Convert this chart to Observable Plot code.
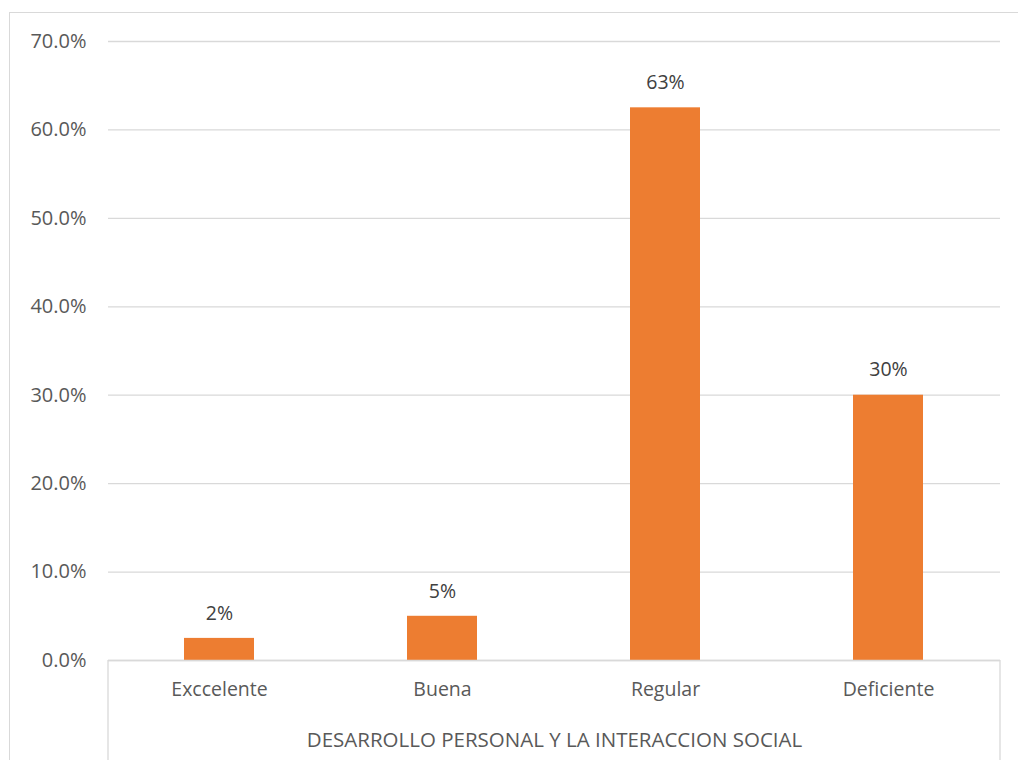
<!DOCTYPE html>
<html>
<head>
<meta charset="utf-8">
<script src="https://cdn.jsdelivr.net/npm/d3@7"></script>
<script src="https://cdn.jsdelivr.net/npm/@observablehq/plot@0.6"></script>
<style>
  html, body { margin: 0; padding: 0; background: #fff; overflow: hidden; }
  #wrap { position: relative; width: 1018px; height: 760px; }
  #border { position: absolute; left: 9px; top: 12px; width: 1030px; height: 770px; border: 1px solid #d9d9d9; box-sizing: border-box; }
  #chart { position: absolute; left: 0; top: 0; }
</style>
</head>
<body>
<div id="wrap"><div id="border"></div><div id="chart"></div></div>
<script>
const categories = ["Exccelente", "Buena", "Regular", "Deficiente"];
const values = [0.025, 0.05, 0.625, 0.30];
const valueLabels = ["2%", "5%", "63%", "30%"];
const groupTitle = "DESARROLLO PERSONAL Y LA INTERACCION SOCIAL";
const yTicks = [0, 0.1, 0.2, 0.3, 0.4, 0.5, 0.6, 0.7];

const data = categories.map((c, i) => ({cat: c, v: values[i], label: valueLabels[i]}));
const font = "'Open Sans', 'Liberation Sans', sans-serif";
const gray = "#595959";
const lineCol = "#d9d9d9";

const plot = Plot.plot({
  width: 1018,
  height: 760,
  marginLeft: 108,
  marginRight: 18,
  marginTop: 41,
  marginBottom: 100,
  style: {fontFamily: font, fontSize: "19px", color: gray, background: "transparent", overflow: "visible"},
  x: {domain: categories, paddingInner: 0.685, paddingOuter: 0.3425, label: null},
  y: {domain: [0, 0.7], label: null},
  marks: [
    Plot.gridY(yTicks, {stroke: lineCol, strokeOpacity: 1, strokeWidth: 1.3}),
    Plot.axisY(yTicks, {tickSize: 0, tickPadding: 22, tickFormat: d => d3.format(".1%")(d), fill: gray, fontSize: 20}),
    Plot.barY(data, {x: "cat", y: "v", fill: "#ed7d31"}),
    Plot.ruleY([0], {stroke: lineCol, strokeWidth: 1.3}),
    Plot.text(data, {x: "cat", y: "v", text: "label", dy: -25, fill: "#404040", fontSize: 19.5}),
    Plot.axisX({tickSize: 0, tickPadding: 22, fill: gray, fontSize: 19.5, label: null}),
    Plot.text([groupTitle], {frameAnchor: "bottom", dy: 80, fill: gray, fontSize: 20.5, lineAnchor: "middle"})
  ]
});
document.getElementById("chart").appendChild(plot);

// vertical end lines of the category axis, derived from the x scale range
const xs = plot.scale("x");
const ys = plot.scale("y");
const svg = d3.select(plot);
const [x0, x1] = xs.range;
const yBase = ys.apply(0);
svg.selectAll("line.endline").data([x0, x1]).join("line")
  .attr("class", "endline")
  .attr("x1", d => d).attr("x2", d => d)
  .attr("y1", yBase).attr("y2", 760)
  .attr("stroke", lineCol).attr("stroke-width", 1.3);
</script>
</body>
</html>
